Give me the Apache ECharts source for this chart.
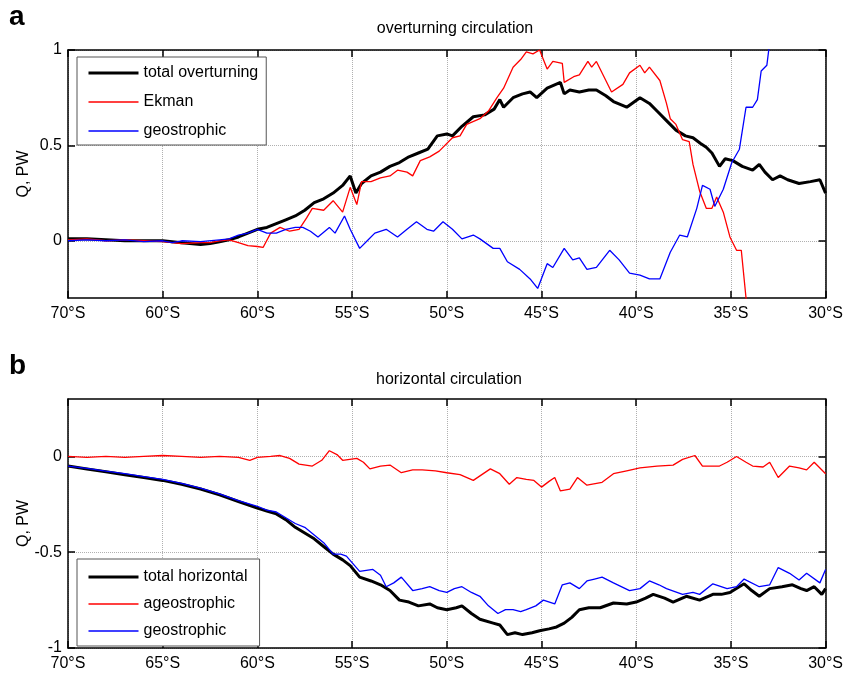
<!DOCTYPE html>
<html>
<head>
<meta charset="utf-8">
<script src="https://cdn.jsdelivr.net/npm/echarts@6/dist/echarts.min.js"></script>
<style>
  html, body { margin: 0; padding: 0; background: #fff; }
  #chart { width: 846px; height: 674px; }
</style>
</head>
<body>
<div id="chart"></div>
<script>
// tick labels (top panel really reads "60°S" twice)
var xLabelsA = ['70°S', '60°S', '60°S', '55°S', '50°S', '45°S', '40°S', '35°S', '30°S'];
var xLabelsB = ['70°S', '65°S', '60°S', '55°S', '50°S', '45°S', '40°S', '35°S', '30°S'];
var yTicksA = [0, 0.5, 1];
var yTicksB = [-1, -0.5, 0];

// panel a : total overturning
var latTotalA = [-70, -69, -68, -67, -66, -65, -64, -63, -62.5, -62, -61.5, -61, -60.5, -60, -59.5, -59, -58.5, -58, -57.5, -57,
    -56.5, -56, -55.5, -55.1, -54.8, -54.5, -54, -53.5, -53, -52.5, -52, -51.5, -51, -50.5, -50, -49.7, -49.2, -48.6, -48, -47.5,
    -47.2, -47, -46.5, -46, -45.6, -45.25, -44.7, -44, -43.8, -43.5, -43, -42.5, -42.1, -41.6, -41.2, -40.5, -39.8, -39.3, -38.9, -38.4,
    -37.9, -37.4, -37, -36.6, -36.3, -36, -35.6, -35.3, -34.9, -34.4, -33.85, -33.5, -33.2, -32.8, -32.4, -32, -31.4, -30.8, -30.3, -30];
var valTotalA = [0.01, 0.01, 0.005, 0, 0, 0, -0.01, -0.02, -0.015, -0.005, 0.005, 0.02, 0.04, 0.06, 0.07, 0.09, 0.11, 0.13, 0.16, 0.2,
    0.22, 0.25, 0.29, 0.34, 0.25, 0.3, 0.34, 0.36, 0.39, 0.41, 0.44, 0.46, 0.48, 0.55, 0.56, 0.55, 0.6, 0.65, 0.66, 0.69,
    0.74, 0.7, 0.75, 0.77, 0.78, 0.75, 0.8, 0.83, 0.77, 0.79, 0.78, 0.79, 0.79, 0.76, 0.73, 0.7, 0.75, 0.72, 0.68, 0.63,
    0.58, 0.55, 0.54, 0.51, 0.49, 0.46, 0.39, 0.43, 0.42, 0.39, 0.37, 0.4, 0.36, 0.32, 0.34, 0.32, 0.3, 0.31, 0.32, 0.25];

// panel a : Ekman
var latEkman = [-70, -69, -68, -67, -66, -65, -64, -63, -62.5, -62, -61.5, -61, -60.5, -60, -59.7, -59.3, -58.8, -58.3, -57.8, -57.4,
    -57.1, -56.5, -56, -55.5, -55.1, -54.75, -54.5, -54, -53.5, -53, -52.6, -52.1, -51.8, -51.4, -50.9, -50.4, -49.7, -49.3, -48.95, -48.25,
    -47.8, -47.35, -47, -46.5, -46.1, -45.8, -45.45, -45.1, -44.7, -44.4, -43.9, -43.8, -43.3, -43, -42.55, -42.35, -42.1, -41.7, -41.3, -40.7,
    -40.35, -39.8, -39.55, -39.3, -38.75, -38.4, -38.2, -37.9, -37.55, -37.2, -37, -36.65, -36.3, -36, -35.75, -35.4, -35.05, -34.7, -34.45, -34.2, -33.9];
var valEkman = [0.005, 0.01, 0, 0.005, 0, -0.005, -0.015, -0.01, -0.01, 0, 0.005, -0.01, -0.025, -0.03, -0.035, 0.04, 0.07, 0.05, 0.06, 0.12,
    0.17, 0.16, 0.21, 0.15, 0.28, 0.19, 0.31, 0.31, 0.33, 0.34, 0.37, 0.36, 0.34, 0.42, 0.44, 0.47, 0.54, 0.55, 0.61, 0.64,
    0.68, 0.75, 0.8, 0.91, 0.95, 0.99, 0.98, 1.0, 0.9, 0.94, 0.93, 0.83, 0.86, 0.87, 0.94, 0.91, 0.94, 0.86, 0.78, 0.82,
    0.88, 0.92, 0.88, 0.91, 0.84, 0.72, 0.64, 0.61, 0.53, 0.52, 0.4, 0.26, 0.17, 0.17, 0.23, 0.15, 0.02, -0.05, -0.05, -0.3, -0.5];

// panel a : geostrophic
var latGeoA = [-70, -69, -68, -67, -66, -65, -64.5, -64, -63, -62, -61.5, -61, -60.5, -60, -59.5, -59, -58.5, -58, -57.6, -57.2,
    -56.8, -56.2, -55.9, -55.4, -55.1, -54.6, -54.2, -53.8, -53.2, -52.6, -52.1, -51.6, -51.05, -50.7, -50.2, -49.7, -49.2, -48.6, -48.25, -47.55,
    -47.2, -46.8, -46.15, -45.6, -45.2, -44.7, -44.4, -43.8, -43.35, -43, -42.6, -42.1, -41.4, -40.9, -40.35, -39.8, -39.3, -38.75, -38.2, -37.7,
    -37.3, -36.8, -36.5, -36.1, -35.85, -35.4, -34.95, -34.55, -34.2, -33.85, -33.6, -33.4, -33.1, -33, -32.7];
var valGeoA = [0, 0.005, 0, 0.005, -0.005, 0, -0.01, 0, -0.005, 0.005, 0.01, 0.03, 0.04, 0.06, 0.04, 0.04, 0.06, 0.07, 0.07, 0.05,
    0.02, 0.07, 0.04, 0.13, 0.06, -0.04, 0, 0.04, 0.06, 0.02, 0.06, 0.1, 0.06, 0.05, 0.1, 0.06, 0.01, 0.03, 0.01, -0.04,
    -0.04, -0.11, -0.15, -0.2, -0.25, -0.12, -0.14, -0.04, -0.1, -0.09, -0.15, -0.14, -0.05, -0.1, -0.17, -0.18, -0.2, -0.2, -0.06, 0.03,
    0.02, 0.17, 0.29, 0.27, 0.18, 0.27, 0.41, 0.48, 0.7, 0.7, 0.74, 0.89, 0.92, 1.0, 1.2];

// panel b : total horizontal
var latTotalB = [-70, -69, -68, -67, -66, -65, -64, -63, -62, -61, -60, -59.5, -59, -58.5, -58, -57.5, -57, -56.5, -56, -55.5,
    -55.1, -54.6, -54, -53.5, -53, -52.5, -52, -51.5, -50.9, -50.5, -50, -49.5, -49.2, -48.7, -48.25, -47.55, -47.2, -46.8, -46.4, -46,
    -45.5, -45.1, -44.6, -44.2, -43.8, -43.4, -43, -42.5, -41.9, -41.2, -40.5, -40, -39.5, -39.1, -38.5, -38.05, -37.35, -36.65, -35.95, -35.5,
    -35.05, -34.3, -33.9, -33.5, -32.95, -32.3, -31.75, -31.3, -31, -30.6, -30.2, -30];
var valTotalB = [-0.05, -0.065, -0.08, -0.095, -0.11, -0.125, -0.145, -0.17, -0.2, -0.235, -0.27, -0.285, -0.3, -0.33, -0.37, -0.4, -0.43, -0.47, -0.51, -0.54,
    -0.57, -0.63, -0.65, -0.67, -0.7, -0.75, -0.76, -0.78, -0.77, -0.79, -0.8, -0.79, -0.78, -0.82, -0.85, -0.87, -0.88, -0.93, -0.92, -0.93,
    -0.92, -0.91, -0.9, -0.89, -0.87, -0.84, -0.8, -0.79, -0.79, -0.765, -0.77, -0.76, -0.74, -0.72, -0.74, -0.76, -0.73, -0.75, -0.72, -0.72,
    -0.71, -0.665, -0.7, -0.73, -0.69, -0.68, -0.67, -0.69, -0.7, -0.68, -0.72, -0.69];

// panel b : ageostrophic
var latAgeo = [-70, -69, -68, -67, -66, -65, -64, -63, -62, -61, -60.4, -60, -59.3, -58.8, -58.3, -57.8, -57.1, -56.6, -56.2, -55.8,
    -55.5, -54.75, -54.4, -54.06, -53.5, -53, -52.4, -51.8, -51.3, -50.6, -50, -49.3, -48.6, -47.7, -47.2, -46.7, -46.3, -45.8, -45.4, -45,
    -44.6, -44.3, -44, -43.5, -43.1, -42.6, -41.8, -41.2, -40.5, -39.8, -38.9, -38.05, -37.55, -36.9, -36.5, -35.6, -35.2, -34.7, -34.2, -33.85,
    -33.3, -32.95, -32.5, -31.9, -31.4, -31, -30.6, -30];
var valAgeo = [0, -0.005, 0, -0.005, 0, 0.005, 0, -0.005, 0, -0.005, -0.02, -0.005, 0, 0.005, -0.01, -0.04, -0.05, -0.02, 0.03, 0.01,
    -0.02, -0.01, -0.03, -0.065, -0.05, -0.045, -0.085, -0.07, -0.07, -0.075, -0.085, -0.095, -0.125, -0.065, -0.09, -0.145, -0.11, -0.12, -0.125, -0.16,
    -0.13, -0.11, -0.18, -0.17, -0.11, -0.15, -0.135, -0.09, -0.075, -0.06, -0.05, -0.045, -0.015, 0.005, -0.05, -0.05, -0.03, 0, -0.03, -0.05,
    -0.055, -0.03, -0.11, -0.05, -0.06, -0.07, -0.03, -0.09];

// panel b : geostrophic
var latGeoB = [-70, -69, -68, -67, -66, -65, -64, -63, -62, -61, -60, -59.5, -59, -58.5, -58, -57.5, -57, -56.5, -56, -55.6,
    -55.3, -54.6, -53.9, -53.5, -53.2, -52.8, -52.4, -51.8, -51.3, -50.9, -50.4, -50, -49.6, -49.2, -48.7, -48.25, -47.8, -47.3, -46.9, -46.5,
    -46.1, -45.8, -45.3, -44.9, -44.3, -43.9, -43.5, -43, -42.6, -42.2, -41.8, -41.2, -40.35, -39.8, -39.3, -38.8, -38.4, -37.55, -37, -36.65,
    -35.95, -35.2, -34.7, -34.3, -33.5, -32.95, -32.5, -31.9, -31.4, -31, -30.3, -30];
var valGeoB = [-0.05, -0.062, -0.077, -0.09, -0.105, -0.12, -0.14, -0.165, -0.195, -0.23, -0.26, -0.28, -0.29, -0.32, -0.35, -0.37, -0.41, -0.45, -0.51, -0.51,
    -0.52, -0.6, -0.59, -0.62, -0.68, -0.66, -0.63, -0.7, -0.69, -0.68, -0.7, -0.71, -0.69, -0.68, -0.71, -0.73, -0.78, -0.82, -0.8, -0.8,
    -0.81, -0.8, -0.78, -0.75, -0.77, -0.67, -0.66, -0.69, -0.65, -0.64, -0.63, -0.66, -0.7, -0.69, -0.65, -0.67, -0.69, -0.72, -0.71, -0.72,
    -0.665, -0.69, -0.68, -0.64, -0.68, -0.67, -0.58, -0.61, -0.645, -0.61, -0.66, -0.59];

function pairs(lat, val) {
    var out = [];
    for (var i = 0; i < lat.length; i++) {
        out.push([lat[i], val[i]]);
    }
    return out;
}

var font = 'Liberation Sans, Arial, sans-serif';
var gridLine = {show: true, lineStyle: {color: '#b0b0b0', type: 'dotted', width: 1}};
var frame = {show: true, onZero: false, lineStyle: {color: '#000', width: 1.5}};

function xAxes(gridIndex, labels) {
    return [{
        type: 'value', gridIndex: gridIndex, position: 'bottom', min: -70, max: -30, interval: 5,
        axisLine: frame,
        axisTick: {show: true, inside: true, length: 7, lineStyle: {color: '#000', width: 1.5}},
        axisLabel: {
            color: '#000', fontSize: 16, fontFamily: font, margin: 8,
            formatter: function (v) { return labels[Math.round((v + 70) / 5)]; }
        },
        splitLine: gridLine
    }, {
        type: 'value', gridIndex: gridIndex, position: 'top', min: -70, max: -30, interval: 5,
        axisLine: frame,
        axisTick: {show: true, inside: true, length: 7, lineStyle: {color: '#000', width: 1.5}},
        axisLabel: {show: false},
        splitLine: {show: false}
    }];
}

function yAxes(gridIndex, min, max, ticks) {
    return [{
        type: 'value', gridIndex: gridIndex, position: 'left', min: min, max: max,
        name: 'Q, PW', nameLocation: 'middle', nameGap: 36, nameRotate: 90, nameMoveOverlap: false,
        nameTextStyle: {color: '#000', fontSize: 16, fontFamily: font},
        axisLine: frame,
        axisTick: {show: true, inside: true, length: 7, customValues: ticks, lineStyle: {color: '#000', width: 1.5}},
        axisLabel: {color: '#000', fontSize: 16, fontFamily: font, margin: 6, customValues: ticks},
        splitLine: gridLine
    }, {
        type: 'value', gridIndex: gridIndex, position: 'right', min: min, max: max,
        axisLine: frame,
        axisTick: {show: true, inside: true, length: 7, customValues: ticks, lineStyle: {color: '#000', width: 1.5}},
        axisLabel: {show: false},
        splitLine: {show: false}
    }];
}

function line(name, data, color, width, xi, yi) {
    return {
        name: name, type: 'line', data: data, xAxisIndex: xi, yAxisIndex: yi,
        symbol: 'none', showSymbol: false, clip: true, animation: false,
        lineStyle: {color: color, width: width}, itemStyle: {color: color}
    };
}

function legendItem(name, width) {
    return {name: name, lineStyle: {width: width}};
}

var legendBase = {
    orient: 'vertical', backgroundColor: '#fff', borderColor: '#555', borderWidth: 1,
    itemWidth: 50, itemHeight: 14, itemGap: 13,
    itemStyle: {opacity: 0},
    textStyle: {color: '#000', fontSize: 16, fontFamily: font},
    selectedMode: false
};

var option = {
    animation: false,
    backgroundColor: '#fff',
    graphic: [
        {type: 'text', left: 9, top: 3, style: {text: 'a', fontSize: 28, fontWeight: 'bold', fontFamily: font, fill: '#000'}},
        {type: 'text', left: 9, top: 352, style: {text: 'b', fontSize: 28, fontWeight: 'bold', fontFamily: font, fill: '#000'}},
        {type: 'text', x: 455, y: 29, style: {text: 'overturning circulation', fontSize: 16, fontFamily: font, fill: '#000', align: 'center', verticalAlign: 'middle'}},
        {type: 'text', x: 449, y: 380, style: {text: 'horizontal circulation', fontSize: 16, fontFamily: font, fill: '#000', align: 'center', verticalAlign: 'middle'}}
    ],
    grid: [
        {left: 68, top: 50, width: 758, height: 248},
        {left: 68, top: 399, width: 758, height: 249}
    ],
    xAxis: xAxes(0, xLabelsA).concat(xAxes(1, xLabelsB)),
    yAxis: yAxes(0, -0.3, 1, yTicksA).concat(yAxes(1, -1, 0.3, yTicksB)),
    legend: [
        Object.assign({}, legendBase, {left: 77, top: 57, padding: [8, 8, 6, 10],
            data: [legendItem('total overturning', 3), legendItem('Ekman', 1.3), legendItem('geostrophic', 1.3)]}),
        Object.assign({}, legendBase, {left: 77, top: 559, padding: [10, 12, 7, 10], itemGap: 11,
            data: [legendItem('total horizontal', 3), legendItem('ageostrophic', 1.3), legendItem('geostrophic', 1.3)]})
    ],
    series: [
        line('total overturning', pairs(latTotalA, valTotalA), '#000000', 3, 0, 0),
        line('Ekman', pairs(latEkman, valEkman), '#ff0000', 1.3, 0, 0),
        line('geostrophic', pairs(latGeoA, valGeoA), '#0000ff', 1.3, 0, 0),
        line('total horizontal', pairs(latTotalB, valTotalB), '#000000', 3, 2, 2),
        line('ageostrophic', pairs(latAgeo, valAgeo), '#ff0000', 1.3, 2, 2),
        line('geostrophic', pairs(latGeoB, valGeoB), '#0000ff', 1.3, 2, 2)
    ]
};

var myChart = echarts.init(document.getElementById('chart'), null, {renderer: 'canvas'});
myChart.setOption(option);
</script>
</body>
</html>
